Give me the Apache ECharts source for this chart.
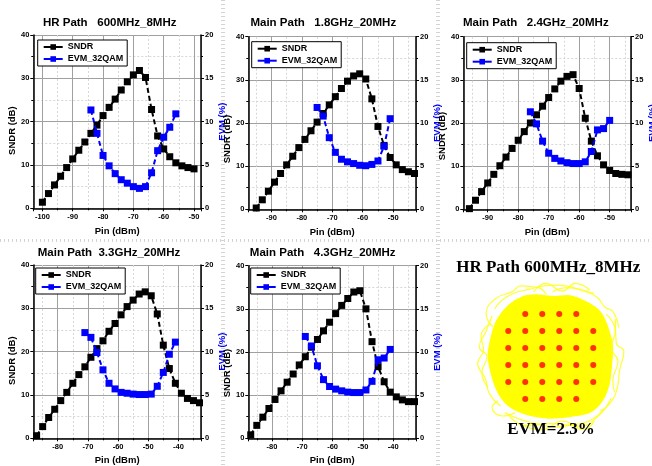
<!DOCTYPE html>
<html>
<head>
<meta charset="utf-8">
<script src="https://cdn.jsdelivr.net/npm/echarts@6/dist/echarts.min.js"></script>
<style>
  html, body { margin: 0; padding: 0; background: #fff; }
  #chart { width: 652px; height: 466px; }
</style>
</head>
<body>
<div id="chart"></div>
<script>
// ---- HR path, 600 MHz carrier, 8 MHz bandwidth ----
const pinHR600 = [-100, -98, -96, -94, -92, -90, -88, -86, -84, -82, -80, -78, -76, -74, -72, -70, -68, -66, -64, -62, -60, -58, -56, -54, -52, -50];
const sndrHR600 = [1.4, 3.4, 5.4, 7.4, 9.4, 11.4, 13.4, 15.3, 17.3, 19.2, 21.4, 23.3, 25.2, 27.3, 29.2, 30.8, 31.8, 30.2, 22.8, 16.7, 13.7, 11.9, 10.5, 9.8, 9.4, 9.1];
const pinEvmHR600 = [-84, -82, -80, -78, -76, -74, -72, -70, -68, -66, -64, -62, -60, -58, -56];
const evmHR600 = [11.35, 8.65, 6.1, 4.9, 4.0, 3.3, 2.9, 2.5, 2.3, 2.5, 4.1, 6.65, 8.2, 9.35, 10.9];

// ---- Main path, 1.8 GHz, 20 MHz ----
const pin1800 = [-95, -93, -91, -89, -87, -85, -83, -81, -79, -77, -75, -73, -71, -69, -67, -65, -63, -61, -59, -57, -55, -53, -51, -49, -47, -45, -43];
const sndr1800 = [0.3, 2.2, 4.2, 6.3, 8.3, 10.3, 12.3, 14.3, 16.2, 18.2, 20.2, 22.2, 24.2, 26.1, 28.0, 29.7, 30.9, 31.4, 30.2, 25.6, 19.2, 14.8, 12.0, 10.3, 9.2, 8.7, 8.3];
const pinEvm1800 = [-75, -73, -71, -69, -67, -65, -63, -61, -59, -57, -55, -53, -51];
const evm1800 = [11.8, 10.8, 8.3, 6.6, 5.8, 5.5, 5.3, 5.1, 5.05, 5.2, 5.6, 7.3, 10.5];

// ---- Main path, 2.4 GHz, 20 MHz ----
const pin2400 = [-96, -94, -92, -90, -88, -86, -84, -82, -80, -78, -76, -74, -72, -70, -68, -66, -64, -62, -60, -58, -56, -54, -52, -50, -48, -46, -44];
const sndr2400 = [0.15, 2.1, 4.1, 6.1, 8.1, 10.1, 12.1, 14.1, 16.0, 18.0, 20.0, 21.9, 23.9, 25.9, 27.9, 29.7, 30.8, 31.2, 28.0, 21.1, 15.8, 12.4, 10.3, 9.0, 8.3, 8.1, 8.0];
const pinEvm2400 = [-76, -74, -72, -70, -68, -66, -64, -62, -60, -58, -56, -54, -52, -50];
const evm2400 = [11.3, 9.9, 7.9, 6.5, 5.9, 5.6, 5.4, 5.3, 5.3, 5.5, 6.7, 9.2, 9.35, 10.3];

// ---- Main path, 3.3 GHz, 20 MHz ----
const pin3300 = [-87, -85, -83, -81, -79, -77, -75, -73, -71, -69, -67, -65, -63, -61, -59, -57, -55, -53, -51, -49, -47, -45, -43, -41, -39, -37, -35, -33];
const sndr3300 = [0.6, 2.7, 4.8, 6.7, 8.7, 10.6, 12.7, 14.7, 16.5, 18.7, 20.7, 22.5, 24.7, 26.5, 28.5, 30.4, 31.9, 33.3, 33.8, 32.9, 28.7, 21.5, 16.1, 12.7, 10.4, 9.2, 8.7, 8.2];
const pinEvm3300 = [-71, -69, -67, -65, -63, -61, -59, -57, -55, -53, -51, -49, -47, -45, -43, -41];
const evm3300 = [12.2, 11.65, 9.9, 7.9, 6.35, 5.7, 5.3, 5.2, 5.1, 5.05, 5.05, 5.1, 6.0, 7.6, 9.7, 11.1];

// ---- Main path, 4.3 GHz, 20 MHz ----
const pin4300 = [-87, -85, -83, -81, -79, -77, -75, -73, -71, -69, -67, -65, -63, -61, -59, -57, -55, -53, -51, -49, -47, -45, -43, -41, -39, -37, -35, -33];
const sndr4300 = [0.8, 3.0, 4.9, 6.9, 9.0, 11.0, 13.0, 14.9, 17.0, 18.9, 21.1, 22.9, 24.9, 26.9, 28.9, 30.8, 32.4, 33.9, 34.2, 30.0, 22.4, 16.6, 13.1, 10.7, 9.6, 8.9, 8.5, 8.5];
const pinEvm4300 = [-69, -67, -65, -63, -61, -59, -57, -55, -53, -51, -49, -47, -45, -43, -41];
const evm4300 = [11.8, 10.7, 8.4, 6.8, 6.0, 5.7, 5.5, 5.35, 5.3, 5.3, 5.6, 6.6, 9.1, 9.3, 10.3];

// ---- 32QAM constellation (HR path, 600 MHz, 8 MHz) ----
const qam32Points = [
  [-3, 5], [-1, 5], [1, 5], [3, 5],
  [-5, 3], [-3, 3], [-1, 3], [1, 3], [3, 3], [5, 3],
  [-5, 1], [-3, 1], [-1, 1], [1, 1], [3, 1], [5, 1],
  [-5, -1], [-3, -1], [-1, -1], [1, -1], [3, -1], [5, -1],
  [-5, -3], [-3, -3], [-1, -3], [1, -3], [3, -3], [5, -3],
  [-3, -5], [-1, -5], [1, -5], [3, -5]
];
// outline of the dense symbol-transition cloud
const cloudEdge = [
  [-3.2, 7.0], [-1.7, 7.2], [0.3, 7.0], [2.3, 7.1], [4.3, 6.3], [5.8, 5.2], [6.6, 3.6], [7.2, 1.3],
  [7.1, -1.0], [6.8, -3.3], [6.0, -5.2], [4.6, -6.5], [2.3, -7.0], [-0.1, -7.2], [-2.4, -6.9],
  [-4.6, -6.0], [-6.0, -4.5], [-6.9, -2.2], [-7.3, 0.2], [-6.9, 2.5], [-6.2, 4.4], [-4.9, 6.0]
];
// loose trajectories around the cloud rim
const cloudStrands = [
  [[-6.8, 3.5], [-7.6, 5.0], [-6.5, 6.8], [-4.6, 7.6], [-3.5, 8.3], [-1.5, 8.1], [-0.5, 7.3]],
  [[0.2, 7.6], [2.0, 8.1], [3.8, 7.7], [5.4, 7.0], [6.4, 5.8], [7.3, 5.3], [8.0, 3.4]],
  [[7.6, 4.4], [7.7, 1.6], [8.6, 0.6], [8.1, -1.6], [7.8, -3.8], [6.9, -5.6], [5.8, -6.4]],
  [[6.3, -6.2], [4.5, -7.6], [2.6, -8.0], [0.5, -8.3], [-1.6, -7.9], [-3.6, -7.4], [-5.4, -6.6]],
  [[-5.9, -5.8], [-7.2, -4.4], [-7.7, -2.6], [-8.6, -0.8], [-7.9, 0.8], [-8.2, 2.4], [-7.1, 3.9]],
  [[-6.6, 5.6], [-5.2, 7.0], [-2.6, 7.9], [0.9, 8.4], [3.1, 8.0], [5.1, 7.4]],
  [[-4.9, -7.0], [-2.9, -8.1], [0.0, -7.9], [3.4, -8.2], [5.5, -7.1], [7.1, -4.9]],
  [[-7.4, -3.6], [-8.1, -1.9], [-7.5, 0.0], [-8.4, 1.1], [-7.6, 3.0], [-6.9, 4.8]],
  [[6.5, 5.0], [7.6, 3.0], [7.1, 1.0], [7.9, -0.6], [7.3, -2.8], [7.5, -4.2]],
  [[-2.0, 7.6], [-0.6, 8.6], [1.4, 7.7], [2.9, 8.6], [4.6, 7.8]],
  [[-3.8, -7.9], [-1.0, -8.6], [1.4, -7.6], [3.9, -8.6], [5.1, -7.6]],
  [[-6.2, -5.2], [-6.9, -6.0], [-5.6, -7.0], [-4.2, -6.6]]
];

const FONT = "'Liberation Sans', Arial, Helvetica, sans-serif";
const SERIF = "'Liberation Serif', 'Times New Roman', serif";
const BLUE = '#0000ff';

const panels = [
  { title: 'HR Path   600MHz_8MHz', box: [33.3, 35, 167.7, 173.3], xr: [-103, -47.7], titlePos: [109.7, 16.5],
    legendPos: [37.7, 40], nameShift: 9, nameGap: 16, pin: pinHR600, sndr: sndrHR600, pinE: pinEvmHR600, evm: evmHR600 },
  { title: 'Main Path   1.8GHz_20MHz', box: [248.3, 36.7, 167.7, 172.6], xr: [-97.6, -42.5], titlePos: [323.3, 17],
    legendPos: [251.7, 41.7], nameShift: 16, nameGap: 11.5, pin: pin1800, sndr: sndr1800, pinE: pinEvm1800, evm: evm1800 },
  { title: 'Main Path   2.4GHz_20MHz', box: [463.3, 36.7, 167.7, 172.6], xr: [-98, -43], titlePos: [535.8, 17],
    legendPos: [466.7, 42.7], nameShift: 13, nameGap: 11.5, pin: pin2400, sndr: sndr2400, pinE: pinEvm2400, evm: evm2400 },
  { title: 'Main Path  3.3GHz_20MHz', box: [33.3, 265, 167.7, 173.3], xr: [-88.1, -32.5], titlePos: [109, 246.5],
    legendPos: [35.7, 268], nameShift: 9, nameGap: 16, pin: pin3300, sndr: sndr3300, pinE: pinEvm3300, evm: evm3300 },
  { title: 'Main Path   4.3GHz_20MHz', box: [248.3, 265.7, 167.7, 172.6], xr: [-87.8, -32.5], titlePos: [322.7, 246.5],
    legendPos: [250.7, 268], nameShift: 21, nameGap: 11.5, pin: pin4300, sndr: sndr4300, pinE: pinEvm4300, evm: evm4300 }
];

const tickLabel = { color: '#000', fontSize: 7.5, fontWeight: 'bold', fontFamily: FONT };
const majorGrid = { show: true, lineStyle: { color: '#a0a0a0', width: 1 } };
const minorGrid = { show: true, lineStyle: { color: '#d6d6d6', width: 1, type: [2, 2] } };
const axisLine = { show: true, onZero: false, lineStyle: { color: '#000', width: 1.5 } };
const axisTick = { show: true, inside: false, length: 3, lineStyle: { color: '#000', width: 1 } };
const minorTick = { show: true, splitNumber: 2, length: 2, lineStyle: { color: '#000', width: 1 } };

const grid = [], xAxis = [], yAxis = [], series = [], legend = [], title = [];

panels.forEach((p, i) => {
  grid.push({ left: p.box[0], top: p.box[1], width: p.box[2], height: p.box[3], containLabel: false, outerBoundsMode: 'none' });
  xAxis.push({
    type: 'value', gridIndex: i, min: p.xr[0], max: p.xr[1], minInterval: 10, maxInterval: 10,
    name: 'Pin (dBm)', nameLocation: 'middle', nameGap: i < 3 ? 18 : 17,
    nameTextStyle: { color: '#000', fontSize: 9.5, fontWeight: 'bold', fontFamily: FONT },
    axisLine, axisTick, minorTick,
    axisLabel: Object.assign({ margin: 5, showMinLabel: false, showMaxLabel: false }, tickLabel),
    splitLine: majorGrid, minorSplitLine: minorGrid
  });
  yAxis.push({
    type: 'value', gridIndex: i, min: 0, max: 40, interval: 10, position: 'left',
    name: 'SNDR (dB)', nameLocation: 'middle', nameGap: p.nameGap, nameRotate: 90,
    nameTextStyle: { color: '#000', fontSize: 9.5, fontWeight: 'bold', fontFamily: FONT, padding: [0, 2 * p.nameShift, 0, 0] },
    axisLine, axisTick, minorTick,
    axisLabel: Object.assign({ margin: 4 }, tickLabel),
    splitLine: majorGrid, minorSplitLine: minorGrid
  });
  yAxis.push({
    type: 'value', gridIndex: i, min: 0, max: 20, interval: 5, position: 'right',
    name: 'EVM (%)', nameLocation: 'middle', nameGap: 10, nameRotate: 90,
    nameTextStyle: { color: BLUE, fontSize: 9.5, fontWeight: 'bold', fontFamily: FONT },
    axisLine, axisTick, minorTick,
    axisLabel: Object.assign({ margin: 4 }, tickLabel),
    splitLine: { show: false }, minorSplitLine: { show: false }
  });
  series.push({
    name: 'SNDR', type: 'line', xAxisIndex: i, yAxisIndex: 2 * i,
    data: p.pin.map((x, k) => [x, p.sndr[k]]),
    symbol: 'rect', symbolSize: 7, showAllSymbol: true,
    lineStyle: { color: '#000', width: 2, type: [5, 3] },
    itemStyle: { color: '#000' }, z: 3
  });
  series.push({
    name: 'EVM_32QAM', type: 'line', xAxisIndex: i, yAxisIndex: 2 * i + 1,
    data: p.pinE.map((x, k) => [x, p.evm[k]]),
    symbol: 'rect', symbolSize: 7, showAllSymbol: true,
    lineStyle: { color: BLUE, width: 2, type: [5, 3] },
    itemStyle: { color: BLUE }, z: 4
  });
  legend.push({
    orient: 'vertical', left: p.legendPos[0], top: p.legendPos[1], data: ['SNDR', 'EVM_32QAM'],
    padding: [2, 4, 2, 5], itemGap: 2, itemWidth: 19, itemHeight: 7,
    borderColor: '#000', borderWidth: 1, borderRadius: 0, backgroundColor: '#fff',
    lineStyle: { type: 'solid', width: 2 },
    textStyle: { color: '#000', fontSize: 9, fontWeight: 'bold', fontFamily: FONT, lineHeight: 10 },
    selectedMode: false, z: 10
  });
  title.push({
    text: p.title, left: p.titlePos[0], top: p.titlePos[1], textAlign: 'center', padding: 0,
    textStyle: { color: '#000', fontSize: 11.5, fontWeight: 'bold', fontFamily: FONT }
  });
});

// constellation panel
grid.push({ left: 470, top: 275.75, width: 161.5, height: 161.5, containLabel: false, outerBoundsMode: 'none' });
xAxis.push({ type: 'value', gridIndex: 5, min: -9.5, max: 9.5, show: false });
yAxis.push({ type: 'value', gridIndex: 5, min: -9.5, max: 9.5, show: false });
series.push({
  type: 'custom', xAxisIndex: 5, yAxisIndex: 10, data: [0], silent: true, z: 1,
  renderItem: (params, api) => ({
    type: 'polygon',
    shape: { points: cloudEdge.map(pt => api.coord(pt)), smooth: 0.3 },
    style: { fill: '#ffff00', stroke: '#ffff00', lineWidth: 2 }
  })
});
cloudStrands.forEach(s => {
  series.push({
    type: 'line', xAxisIndex: 5, yAxisIndex: 10, data: s, smooth: true, showSymbol: false, silent: true,
    lineStyle: { color: '#ffff10', width: 1.2, opacity: 0.85 }, z: 1
  });
});
series.push({
  type: 'scatter', xAxisIndex: 5, yAxisIndex: 10, data: qam32Points, silent: true,
  symbol: 'circle', symbolSize: 6, itemStyle: { color: '#ff0000' }, z: 5
});
title.push({
  text: 'HR Path 600MHz_8MHz', left: 548.3, top: 259.5, textAlign: 'center', padding: 0,
  textStyle: { color: '#000', fontSize: 17, fontWeight: 'bold', fontFamily: SERIF }
});
title.push({
  text: 'EVM=2.3%', left: 551, top: 421.5, textAlign: 'center', padding: 0,
  textStyle: { color: '#000', fontSize: 17, fontWeight: 'bold', fontFamily: SERIF }
});

const chart = echarts.init(document.getElementById('chart'), null, { renderer: 'canvas' });
chart.setOption({
  animation: false,
  backgroundColor: '#fff',
  textStyle: { fontFamily: FONT },
  title, grid, xAxis, yAxis, series, legend,
  graphic: [
    // light ruler-style dividers between the figure tiles
    { type: 'line', silent: true, z: -10, shape: { x1: 223, y1: 0, x2: 223, y2: 466 },
      style: { stroke: '#d4d4d4', lineWidth: 4, lineDash: [1, 3] } },
    { type: 'line', silent: true, z: -10, shape: { x1: 438, y1: 0, x2: 438, y2: 466 },
      style: { stroke: '#d4d4d4', lineWidth: 4, lineDash: [1, 3] } },
    { type: 'line', silent: true, z: -10, shape: { x1: 0, y1: 240.5, x2: 652, y2: 240.5 },
      style: { stroke: '#d4d4d4', lineWidth: 3, lineDash: [1, 3] } }
  ]
});
</script>
</body>
</html>
